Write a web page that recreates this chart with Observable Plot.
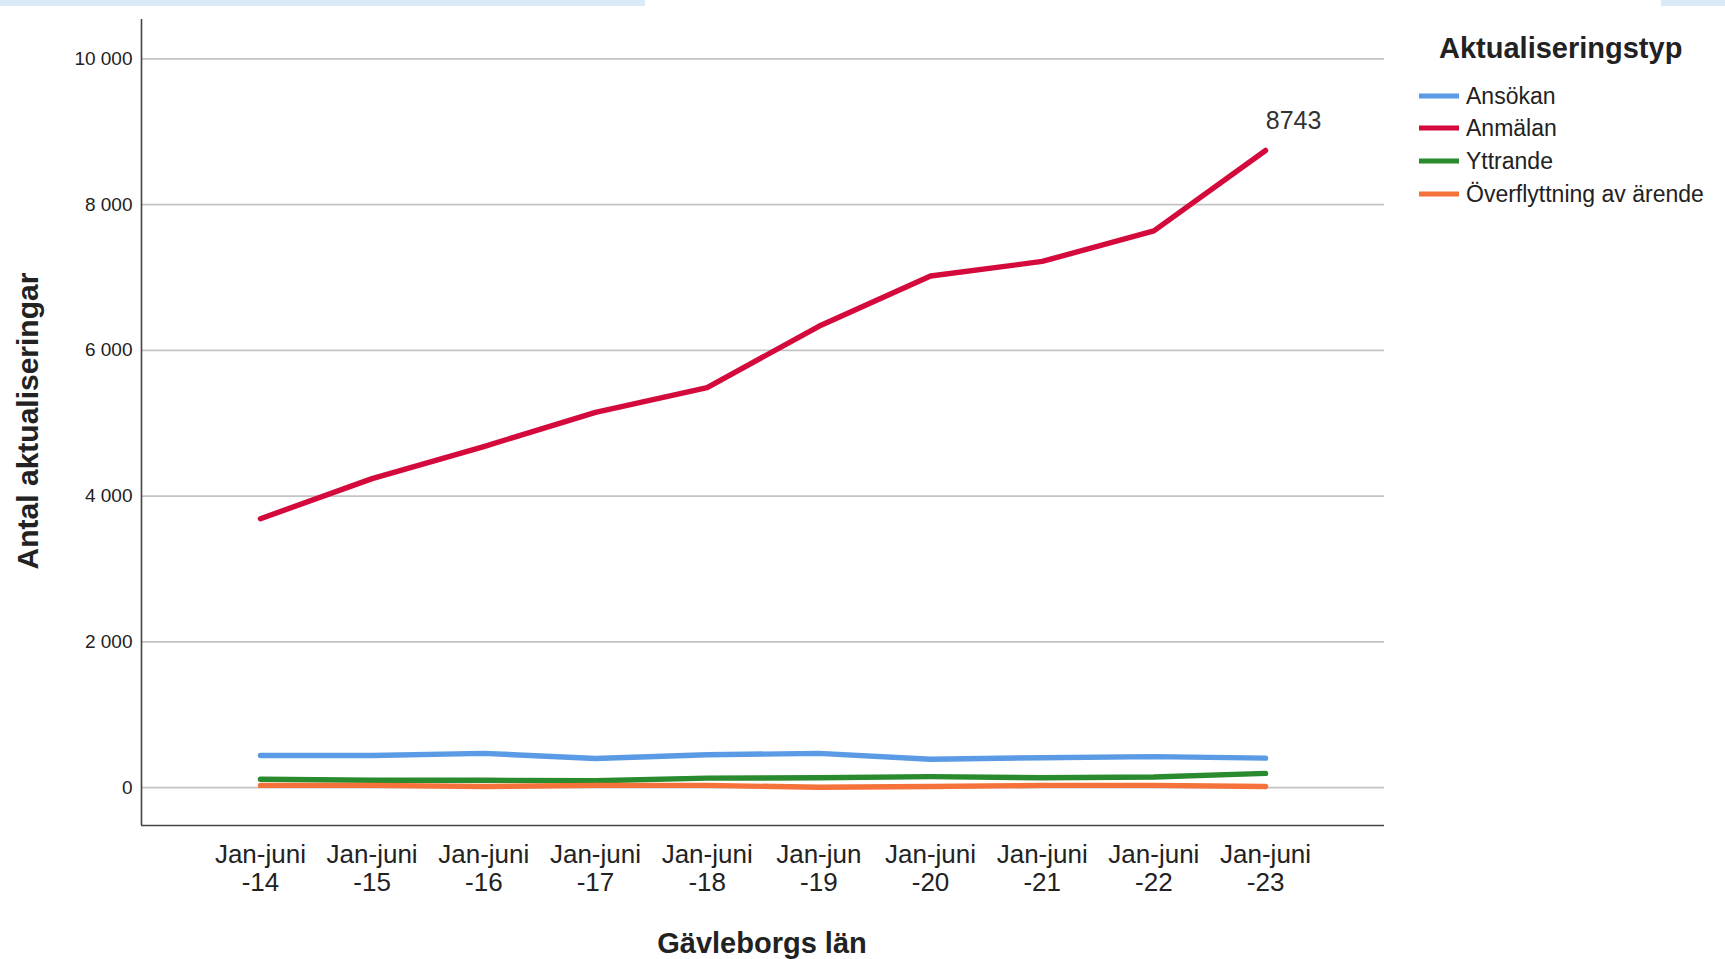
<!DOCTYPE html>
<html><head><meta charset="utf-8">
<script src="https://cdn.jsdelivr.net/npm/d3@7"></script>
<script src="https://cdn.jsdelivr.net/npm/@observablehq/plot@0.6"></script>
<style>
body{margin:0;background:#fff;}
#wrap{position:relative;width:1725px;height:959px;overflow:hidden;font-family:"Liberation Sans",Arial,sans-serif;color:#222;}
#wrap svg{position:absolute;left:0;top:0;}
.c{position:absolute;transform:translate(-50%,-50%);white-space:nowrap;}
.lg{position:absolute;white-space:nowrap;font-size:23px;color:#222;transform:translateY(-50%);}
.sw{position:absolute;width:40px;height:5px;transform:translateY(-50%);}
.band{position:absolute;top:0;height:6px;background:#d8ebf6;}
</style></head><body>
<div id="wrap"></div>
<script>
// ---- data ----
const periods = ["Jan-juni\n-14","Jan-juni\n-15","Jan-juni\n-16","Jan-juni\n-17","Jan-juni\n-18","Jan-jun\n-19","Jan-juni\n-20","Jan-juni\n-21","Jan-juni\n-22","Jan-juni\n-23"];
const seriesNames = ["Ansökan","Anmälan","Yttrande","Överflyttning av ärende"];
const seriesColors = ["#5b9be5","#d50a3c","#2a8a2e","#f5733a"];
const ansokan = [440, 440, 470, 400, 450, 470, 390, 410, 425, 405];
const anmalan = [3690, 4240, 4680, 5150, 5490, 6330, 7020, 7220, 7640, 8743];
const yttrande = [115, 100, 100, 95, 130, 135, 150, 135, 145, 195];
const overflyttning = [30, 30, 15, 30, 30, 5, 15, 30, 30, 15];
const yTicks = [0, 2000, 4000, 6000, 8000, 10000];
const annotation = [{i: 9, value: 8743, label: "8743"}];

const seriesValues = [ansokan, anmalan, yttrande, overflyttning];
const rows = [];
seriesNames.forEach((s, k) => seriesValues[k].forEach((v, i) => rows.push({series: s, i, value: v})));

const xDomain = [-1.065, periods.length - 1 + 1.065];
const yDomain = [-520, 10540];
const fmt = d => d3.format(",")(d).replace(/,/g, " ");

const chart = Plot.plot({
  width: 1725, height: 959,
  marginLeft: 141, marginRight: 341, marginTop: 19, marginBottom: 134,
  x: {type: "linear", domain: xDomain},
  y: {domain: yDomain},
  color: {domain: seriesNames, range: seriesColors},
  style: {fontFamily: '"Liberation Sans", Arial, sans-serif', color: "#222", background: "transparent"},
  marks: [
    Plot.ruleY(yTicks, {stroke: "#c4c4c4", strokeWidth: 1.6}),
    Plot.ruleX([xDomain[0]], {stroke: "#444", strokeWidth: 1.6}),
    Plot.ruleY([yDomain[0]], {stroke: "#444", strokeWidth: 1.6}),
    Plot.line(rows, {x: "i", y: "value", z: "series", stroke: "series", strokeWidth: 5.4}),
    Plot.text(annotation, {x: "i", y: "value", text: "label", dx: 28, dy: -29, fontSize: 25, fill: "#333"}),
    Plot.axisY({ticks: yTicks, tickSize: 0, tickPadding: 9, tickFormat: fmt, fontSize: 19, label: null}),
    Plot.axisX({ticks: d3.range(periods.length), tickSize: 0, tickPadding: 17, tickFormat: i => periods[i], fontSize: 26, lineHeight: 1.1, label: null})
  ]
});

const wrap = document.getElementById("wrap");
wrap.innerHTML = '<div class="band" style="left:0;width:645px"></div><div class="band" style="left:1661px;width:64px"></div>';
wrap.appendChild(chart);

function addDiv(cls, text, css) {
  const d = document.createElement("div");
  d.className = cls; d.textContent = text; d.style.cssText = css;
  wrap.appendChild(d); return d;
}
addDiv("c", "Gävleborgs län", "left:762px;top:943px;font-size:29px;font-weight:bold;");
addDiv("c", "Antal aktualiseringar", "left:28px;top:421px;font-size:30px;font-weight:bold;transform:translate(-50%,-50%) rotate(-90deg);");
addDiv("lg", "Aktualiseringstyp", "left:1439px;top:48px;font-size:29px;font-weight:bold;");
const ys = [96, 128, 161, 194];
seriesNames.forEach((s, k) => {
  addDiv("sw", "", `left:1419px;top:${ys[k]}px;background:${seriesColors[k]};`);
  addDiv("lg", s, `left:1466px;top:${ys[k]}px;`);
});
</script>
</body></html>
